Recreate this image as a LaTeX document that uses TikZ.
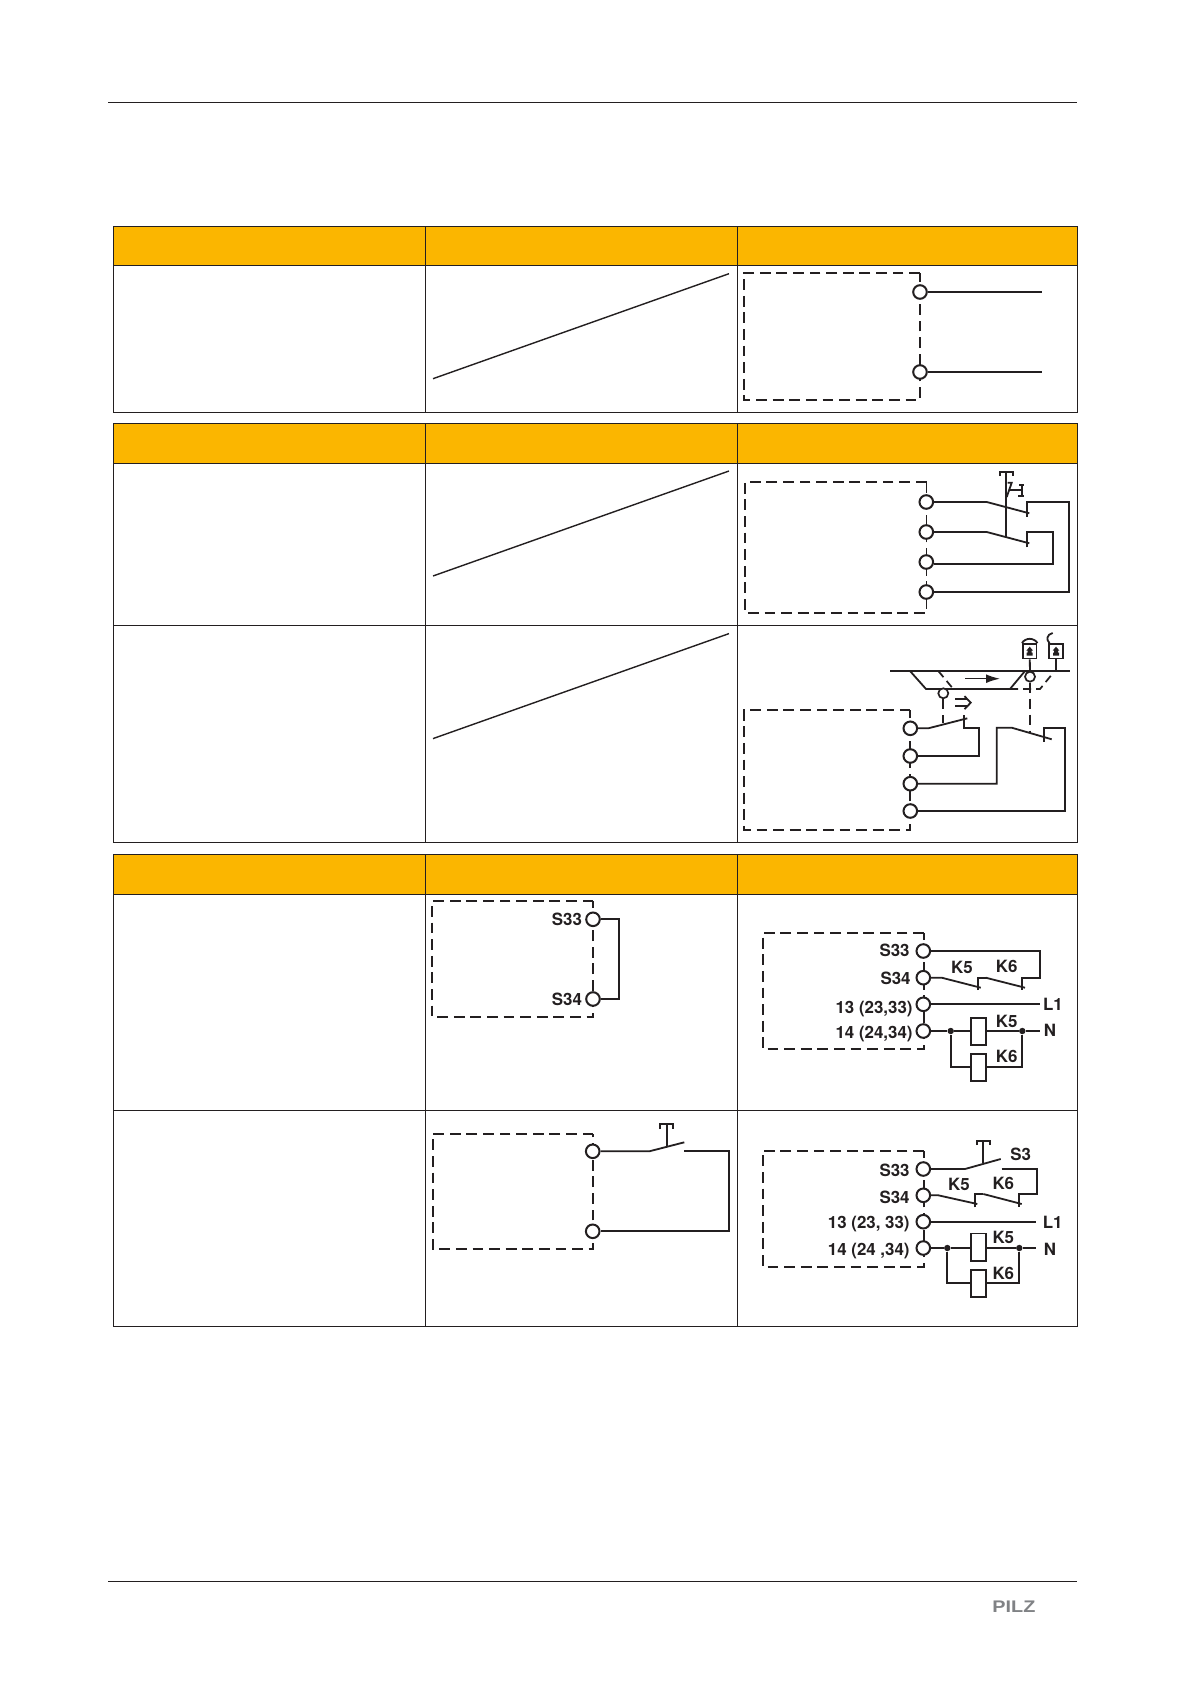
\documentclass[tikz,border=0pt]{standalone}
\usepackage{fontspec}
\setmainfont{TeX Gyre Heros}
\newfontfamily\logofont{Liberation Sans}
\usetikzlibrary{arrows.meta}
\definecolor{ink}{HTML}{231F20}
\definecolor{headfill}{HTML}{FBB600}
\definecolor{logo}{HTML}{808285}
\tikzset{
  rulebar/.style={draw=ink,line width=0.55pt},
  gridline/.style={draw=ink,line width=0.55pt},
  headcell/.style={fill=headfill,draw=ink,line width=0.65pt},
  housing/.style={draw=ink,line width=0.9pt,dash pattern=on 5.4pt off 2.9pt},
  wire/.style={draw=ink,line width=0.9pt,line join=miter},
  thinwire/.style={draw=ink,line width=0.7pt},
  dashwire/.style={draw=ink,line width=0.85pt,dash pattern=on 5pt off 3pt},
  term/.style={circle,draw=ink,fill=white,line width=1pt,minimum size=6.8pt,inner sep=0pt},
  smallterm/.style={circle,draw=ink,fill=white,line width=0.85pt,minimum size=5pt,inner sep=0pt},
  junction/.style={circle,fill=ink,minimum size=3.2pt,inner sep=0pt},
  coil/.style={rectangle,draw=ink,fill=white,line width=0.9pt,minimum width=7.5pt,minimum height=13.6pt,inner sep=0pt},
  lbl/.style={inner sep=0pt,text height=6.05pt,text depth=0pt,text=ink,font=\fontsize{8.45}{10}\selectfont\bfseries},
  lockbox/.style={rectangle,draw=ink,fill=white,line width=0.9pt,minimum width=6.8pt,minimum height=7.2pt,inner sep=0pt},
  logomark/.style={inner sep=0pt,text=logo,text height=6pt,text depth=0pt,font=\logofont\fontsize{8.4}{10}\selectfont\bfseries}
}
\newcommand{\lockmark}[2]{\fill[ink] (#1,#2-4.6) -- (#1+3.4,#2-0.6) -- (#1+2,#2-0.6) -- (#1+2,#2+1.4) -- (#1+3,#2+1.4) -- (#1+3,#2+4.4) -- (#1-3,#2+4.4) -- (#1-3,#2+1.4) -- (#1-2,#2+1.4) -- (#1-2,#2-0.6) -- (#1-3.4,#2-0.6) -- cycle;}
\begin{document}
\begin{tikzpicture}[x=0.5pt,y=-0.5pt]
\useasboundingbox[fill=white] (0,0) rectangle (1191,1684);
% page rules
\coordinate (rt1) at (108,102.5); \coordinate (rt2) at (1077,102.5);
\coordinate (rb1) at (108,1581.5); \coordinate (rb2) at (1077,1581.5);
\draw[rulebar] (rt1) -- (rt2);
\draw[rulebar] (rb1) -- (rb2);
\node[logomark,anchor=west,xscale=1.18] (pilz) at (992,1606) {PILZ};
% table frames
\def\xa{113.5}\def\xb{425.5}\def\xc{737.5}\def\xd{1077.5}
\foreach \t/\h/\b in {226.5/265.5/412.5,423.5/463.5/842.5,854.5/894.5/1326.5}{
  \path[headcell] (\xa,\t) rectangle (\xb,\h);
  \path[headcell] (\xb,\t) rectangle (\xc,\h);
  \path[headcell] (\xc,\t) rectangle (\xd,\h);
  \draw[gridline] (\xa,\h) rectangle (\xd,\b);
  \draw[gridline] (\xb,\h) -- (\xb,\b);
  \draw[gridline] (\xc,\h) -- (\xc,\b);
}
\draw[gridline] (\xa,625.5) -- (\xd,625.5);
\draw[gridline] (\xa,1110.5) -- (\xd,1110.5);
% diagonal strikes
\draw[thinwire] (433,378.7) -- (729,273.7);
\draw[thinwire] (433,576) -- (729,471);
\draw[thinwire] (433,738.6) -- (729,633.6);

% ---------- A
\draw[housing] (920,272.7) -- (744,272.7) -- (744,400) -- (920,400) -- cycle;
\node[term] (a1) at (920,292) {};
\node[term] (a2) at (920,372) {};
\coordinate (a1e) at (1041.7,292); \coordinate (a2e) at (1041.7,372);
\draw[wire] (a1) -- (a1e);
\draw[wire] (a2) -- (a2e);

% ---------- B
\draw[housing] (926.5,481.7) -- (745,481.7) -- (745,612.7) -- (926.5,612.7) -- cycle;
\node[term] (b1) at (926.3,502) {};
\node[term] (b2) at (926.3,532) {};
\node[term] (b3) at (926.3,562) {};
\node[term] (b4) at (926.3,592) {};
\draw[wire] (b1) -- (986.7,502) -- (1029.3,513.3);
\draw[wire] (b2) -- (986.7,532) -- (1029.3,543.3);
\draw[wire] (1026.7,516.7) -- (1026.7,502) -- (1069.3,502) -- (1069.3,592) -- (b4);
\draw[wire] (1026.7,547.3) -- (1026.7,532) -- (1053.3,532) -- (1053.3,564) -- (b3.east|-0,564);
\draw[wire] (1005.7,472) -- (1005.7,536.7);
\draw[wire,line width=1.1pt] (1000.3,476) -- (1000.3,472) -- (1013,472) -- (1013,476);
\draw[wire] (1006.7,497) -- (1011.7,482.7) -- (1007.7,482.7);
\draw[wire] (1009,490.3) -- (1021.7,490.3);
\draw[wire] (1019,484.9) -- (1024,484.9);
\draw[wire] (1021.7,484.9) -- (1021.7,496);
\draw[wire] (1018,496) -- (1023.5,496);

% ---------- C
\draw[housing] (910.3,710) -- (744,710) -- (744,830) -- (910.3,830) -- cycle;
\node[term] (c1) at (910.3,728.3) {};
\node[term] (c2) at (910.3,756) {};
\node[term] (c3) at (910.3,783.7) {};
\node[term] (c4) at (910.3,811) {};
\draw[wire] (c1) -- (928.3,728.3) -- (967.3,718.3);
\draw[wire] (964,715) -- (964,727.7) -- (978.7,727.7) -- (978.7,756) -- (c2);
\draw[wire] (c3) -- (996.7,783.7) -- (996.7,727.7) -- (1011.7,727.7) -- (1051.7,739.3);
\draw[wire] (1044,741.7) -- (1044,727.7) -- (1065.3,727.7) -- (1065.3,811) -- (c4);
% rail
\draw[wire,line width=1.05pt] (890,671) -- (1070,671);
\draw[wire] (910,671) -- (926,689) -- (1010,689) -- (1025,671);
\draw[dashwire,dash pattern=on 4pt off 2.5pt] (1010,689) -- (1040,689) -- (1053.3,672.7);
\draw[dashwire,dash pattern=on 4pt off 2.5pt] (938.3,671) -- (953.3,689);
% carriage arrows
\coordinate (arA) at (965,678.7); \coordinate (arB) at (1000,678.7);
\draw[thinwire,-{Latex[length=7pt,width=4.4pt]}] (arA) -- (arB);
\draw[wire] (955,699.3) -- (967,699.3);
\draw[wire] (955,706) -- (967,706);
\draw[wire] (964.5,696.2) -- (970.7,702.7) -- (964.5,709.2);
% actuators
\node[smallterm] (cs1) at (943.3,693.3) {};
\node[smallterm] (cs2) at (1030,676.7) {};
\coordinate (cd1) at (943.3,723);
\coordinate (cd2) at (1030,733.3);
\draw[dashwire] (cs1) -- (cd1);
\draw[dashwire] (cs2) -- (cd2);
% locks
\node[lockbox] (lk1) at (1029.7,651.3) {};
\node[lockbox] (lk2) at (1056,651.3) {};
\draw[wire] (lk1) -- (cs2);
\coordinate (rail2) at (1056,671);
\draw[wire] (lk2) -- (rail2);
\draw[wire] (lk1.north west) .. controls (1023,640.5) and (1027,638.8) .. (1029.7,638.8) .. controls (1032.4,638.8) and (1036.4,640.5) .. (lk1.north east);
\draw[wire] (1049.5,643) .. controls (1046,640) and (1046.5,634.5) .. (1052.7,633);
\lockmark{1029.7}{651.3}
\lockmark{1056}{651.3}

% ---------- D
\draw[housing] (924,933) -- (762.7,933) -- (762.7,1049) -- (924,1049) -- cycle;
\node[term] (d1) at (923.3,951) {};
\node[term] (d2) at (923.3,977.7) {};
\node[term] (d3) at (923.3,1004.3) {};
\node[term] (d4) at (923.3,1031) {};
\node[lbl,anchor=east] (dl1) at (910,950.5) {S33};
\node[lbl,anchor=east] (dl2) at (911,978.5) {S34};
\node[lbl,anchor=east] (dl3) at (913,1007.7) {13 (23,33)};
\node[lbl,anchor=east] (dl4) at (913,1032.5) {14 (24,34)};
\node[lbl] (dk5) at (962,967.7) {K5};
\node[lbl] (dk6) at (1006.7,966.7) {K6};
\node[lbl] (dk5c) at (1006.7,1021.7) {K5};
\node[lbl] (dk6c) at (1006.7,1056.7) {K6};
\node[lbl] (dL) at (1053,1004.3) {L1};
\node[lbl] (dN) at (1050,1030.7) {N};
\coordinate (dLe) at (1040,1004.3); \coordinate (dNe) at (1040,1031);
\node[junction] (dj1) at (950.7,1031) {};
\node[junction] (dj2) at (1022.3,1031) {};
\node[coil] (dc1) at (978.2,1031.3) {};
\node[coil] (dc2) at (978.2,1067.3) {};
\draw[wire] (d1) -- (1040,951) -- (1040,977.7) -- (1022.3,977.7) -- (1022.3,990);
\draw[wire] (985.7,977.7) -- (1025,987.7);
\draw[wire] (978.3,990) -- (978.3,977.7) -- (985.7,977.7);
\draw[wire] (d2) -- (941.7,977.7) -- (980.7,987.7);
\draw[wire] (d3) -- (dLe);
\draw[wire] (d4) -- (dj1) -- (dc1.west|-dj1);
\draw[wire] (dc1.east|-dj2) -- (dj2) -- (dNe);
\draw[wire] (dj1) |- (dc2);
\draw[wire] (dj2) |- (dc2);

% ---------- E
\draw[housing] (924,1150.7) -- (762.7,1150.7) -- (762.7,1266.7) -- (924,1266.7) -- cycle;
\node[term] (e1) at (923.3,1169) {};
\node[term] (e2) at (923.3,1195.3) {};
\node[term] (e3) at (923.3,1221.7) {};
\node[term] (e4) at (923.3,1248) {};
\node[lbl,anchor=east] (el1) at (910,1170) {S33};
\node[lbl,anchor=east] (el2) at (910,1197.7) {S34};
\node[lbl,anchor=east] (el3) at (910,1222.7) {13 (23, 33)};
\node[lbl,anchor=east] (el4) at (910,1249) {14 (24 ,34)};
\node[lbl] (es3) at (1020.7,1154.3) {S3};
\node[lbl] (ek5) at (959,1184) {K5};
\node[lbl] (ek6) at (1003.3,1183.3) {K6};
\node[lbl] (ek5c) at (1003.3,1237.7) {K5};
\node[lbl] (ek6c) at (1003.3,1273.3) {K6};
\node[lbl] (eL) at (1052.7,1222.3) {L1};
\node[lbl] (eN) at (1050,1249.3) {N};
\coordinate (eLe) at (1036,1221.7); \coordinate (eNe) at (1036,1248);
\node[junction] (ej1) at (947.3,1248) {};
\node[junction] (ej2) at (1019.3,1248) {};
\node[coil] (ec1) at (978.2,1247) {};
\node[coil] (ec2) at (978.2,1283.3) {};
\draw[wire] (e1) -- (965,1169) -- (1000.7,1159);
\draw[wire] (983.3,1140.7) -- (983.3,1163.3);
\draw[wire] (977.3,1145) -- (977.3,1140.7) -- (990,1140.7) -- (990,1145);
\draw[wire] (1001.7,1169) -- (1036.7,1169) -- (1036.7,1194) -- (1019.3,1194) -- (1019.3,1207.3);
\draw[wire] (983.3,1194) -- (1021.7,1204);
\draw[wire] (975,1207.3) -- (975,1194) -- (983.3,1194);
\draw[wire] (e2) -- (938.3,1195.3) -- (977.3,1204);
\draw[wire] (e3) -- (eLe);
\draw[wire] (e4) -- (ej1) -- (ec1.west|-ej1);
\draw[wire] (ec1.east|-ej2) -- (ej2) -- (eNe);
\draw[wire] (ej1) |- (ec2);
\draw[wire] (ej2) |- (ec2);

% ---------- F
\draw[housing] (593.3,901) -- (432.3,901) -- (432.3,1017.3) -- (593.3,1017.3) -- cycle;
\node[term] (f1) at (593,919.3) {};
\node[term] (f2) at (593,999) {};
\node[lbl,anchor=east] (fl1) at (582.3,919.7) {S33};
\node[lbl,anchor=east] (fl2) at (582.3,999) {S34};
\draw[wire] (f1) -- (618.7,919.3) -- (618.7,999) -- (f2);

% ---------- G
\draw[housing] (593.3,1134) -- (432.7,1134) -- (432.7,1249) -- (593.3,1249) -- cycle;
\node[term] (g1) at (592.7,1151.3) {};
\node[term] (g2) at (592.7,1231.3) {};
\draw[wire] (g1) -- (649.3,1151.3) -- (684.3,1142.3);
\draw[wire] (666.7,1124.3) -- (666.7,1147.3);
\draw[wire] (660,1129) -- (660,1124.3) -- (672.7,1124.3) -- (672.7,1129);
\draw[wire] (684.3,1151.3) -- (729.3,1151.3) -- (729.3,1231.3) -- (g2);
\end{tikzpicture}
\end{document}
